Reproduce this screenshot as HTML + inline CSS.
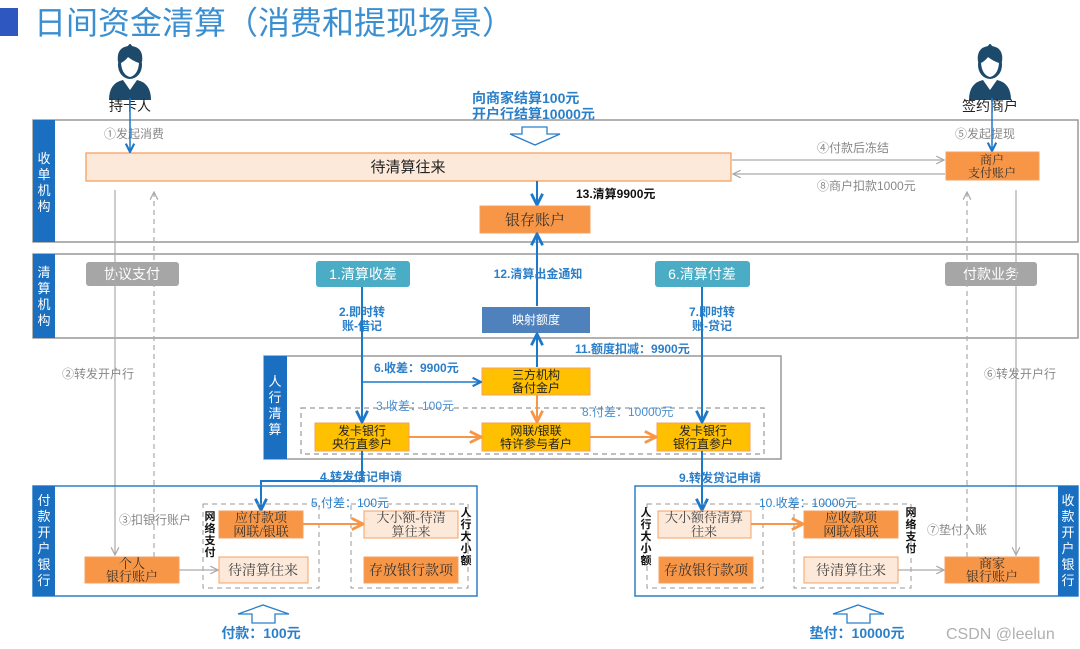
<!DOCTYPE html>
<html><head><meta charset="utf-8"><style>
html,body{margin:0;padding:0;background:#fff;}
svg{display:block;font-family:"Liberation Sans","Noto Sans CJK SC",sans-serif;}
.sv{font-family:"Liberation Serif","Noto Serif CJK SC",serif;}
</style></head><body>
<svg width="1080" height="649" viewBox="0 0 1080 649" xmlns="http://www.w3.org/2000/svg">
<defs>
<marker id="ab" viewBox="0 0 10 10" refX="9" refY="5" markerWidth="7" markerHeight="7" orient="auto"><path d="M1,1 L9,5 L1,9" fill="none" stroke="#1c78c8" stroke-width="2"/></marker>
<marker id="ao" viewBox="0 0 10 10" refX="9" refY="5" markerWidth="7" markerHeight="7" orient="auto"><path d="M1,1 L9,5 L1,9" fill="none" stroke="#f79646" stroke-width="2"/></marker>
<marker id="ag" viewBox="0 0 10 10" refX="9" refY="5" markerWidth="8" markerHeight="8" orient="auto"><path d="M1,1 L9,5 L1,9" fill="none" stroke="#aaa" stroke-width="1.3"/></marker>
<g id="person">
<path d="M-21,50 Q-21,33 -7,30 L0,40 L7,30 Q21,33 21,50 Z" fill="#1d4a6b"/>
<path d="M-6,30 L0,39 L6,30 L3,27 L-3,27Z" fill="#fff"/>
<ellipse cx="0" cy="15" rx="12" ry="14" fill="#1d4a6b"/>
<path d="M-9,13 Q-8,25 0,27 Q8,25 9,13 Q3,11 -2,7 Q-5,11 -9,13Z" fill="#fff"/>
<path d="M-12,12 Q-14,-2 -2,-4 Q0,-8 2,-4 Q14,-2 12,12 Q7,7 0,7 Q-7,7 -12,12Z" fill="#1d4a6b"/>
</g>
</defs>

<!-- title -->
<rect x="0" y="8" width="18" height="28" fill="#2f57c0"/>
<text x="34" y="34" font-size="32" fill="#3b8fd0">日间资金清算（消费和提现场景）</text>

<!-- persons -->
<use href="#person" x="130" y="50"/>
<text x="130" y="111" font-size="14" text-anchor="middle" fill="#222">持卡人</text>
<use href="#person" x="990" y="50"/>
<text x="990" y="111" font-size="14" text-anchor="middle" fill="#222">签约商户</text>

<text x="472" y="103" font-size="14" font-weight="bold" fill="#2b7fc9">向商家结算100元</text>
<text x="472" y="119" font-size="14" font-weight="bold" fill="#2b7fc9">开户行结算10000元</text>

<!-- Section 1 -->
<rect x="33" y="120" width="1045" height="122" fill="#fff" stroke="#999" stroke-width="1.5"/>
<rect x="33" y="120" width="22" height="122" fill="#1a6fc0"/>
<text font-size="13" fill="#fff" text-anchor="middle"><tspan x="44" y="163">收</tspan><tspan x="44" y="179">单</tspan><tspan x="44" y="195">机</tspan><tspan x="44" y="211">构</tspan></text>
<path d="M522,127 L547,127 L547,134 L560,134 L535,145 L510,134 L522,134Z" fill="#fff" stroke="#2b7fc9" stroke-width="1.3"/>
<rect x="86" y="153" width="645" height="28" fill="#fde9d9" stroke="#f7a060" stroke-width="1.3"/>
<text x="408" y="172" font-size="15" text-anchor="middle" fill="#222">待清算往来</text>
<text x="104" y="138" font-size="12" fill="#888">①发起消费</text>
<line x1="130" y1="98" x2="130" y2="152" stroke="#1c78c8" stroke-width="1.5" marker-end="url(#ab)"/>
<text x="955" y="138" font-size="12" fill="#888">⑤发起提现</text>
<line x1="992" y1="98" x2="992" y2="151" stroke="#1c78c8" stroke-width="1.5" marker-end="url(#ab)"/>
<rect x="946" y="152" width="93" height="28" fill="#f79646" stroke="#f7a060"/>
<text class="sv" font-size="12" text-anchor="middle" fill="#333"><tspan x="992" y="164">商户</tspan><tspan x="992" y="177">支付账户</tspan></text>
<line x1="732" y1="160" x2="944" y2="160" stroke="#aaa" stroke-width="1.2" marker-end="url(#ag)"/>
<line x1="945" y1="174" x2="733" y2="174" stroke="#aaa" stroke-width="1.2" marker-end="url(#ag)"/>
<text x="817" y="152" font-size="12" fill="#888">④付款后冻结</text>
<text x="817" y="190" font-size="12" fill="#888">⑧商户扣款1000元</text>
<text x="576" y="198" font-size="12" font-weight="bold" fill="#111">13.清算9900元</text>
<line x1="537" y1="181" x2="537" y2="205" stroke="#1c78c8" stroke-width="2" marker-end="url(#ab)"/>
<rect x="480" y="206" width="110" height="27" fill="#f79646" stroke="#f7a060"/>
<text class="sv" x="535" y="225" font-size="15" text-anchor="middle" fill="#333">银存账户</text>

<!-- Section 2 -->
<rect x="33" y="254" width="1045" height="84" fill="#fff" stroke="#999" stroke-width="1.5"/>
<rect x="33" y="254" width="22" height="84" fill="#1a6fc0"/>
<text font-size="13" fill="#fff" text-anchor="middle"><tspan x="44" y="277">清</tspan><tspan x="44" y="293">算</tspan><tspan x="44" y="309">机</tspan><tspan x="44" y="325">构</tspan></text>
<rect x="86" y="262" width="93" height="24" rx="3" fill="#a6a6a6"/>
<text x="132" y="279" font-size="14" text-anchor="middle" fill="#fff">协议支付</text>
<rect x="316" y="261" width="94" height="26" rx="3" fill="#4bacc6"/>
<text x="363" y="279" font-size="14" text-anchor="middle" fill="#fff">1.清算收差</text>
<rect x="655" y="261" width="95" height="26" rx="3" fill="#4bacc6"/>
<text x="702" y="279" font-size="14" text-anchor="middle" fill="#fff">6.清算付差</text>
<rect x="945" y="262" width="92" height="24" rx="3" fill="#a6a6a6"/>
<text x="991" y="279" font-size="14" text-anchor="middle" fill="#fff">付款业务</text>
<rect x="482" y="307" width="108" height="26" fill="#4f81bd"/>
<text x="536" y="324" font-size="12" text-anchor="middle" fill="#fff">映射额度</text>
<line x1="537" y1="306" x2="537" y2="234" stroke="#1c78c8" stroke-width="2" marker-end="url(#ab)"/>
<text x="538" y="278" font-size="12" font-weight="bold" text-anchor="middle" fill="#2b7fc9">12.清算出金通知</text>
<text font-size="12" font-weight="bold" text-anchor="middle" fill="#2b7fc9"><tspan x="362" y="316">2.即时转</tspan><tspan x="362" y="330">账-借记</tspan></text>
<text font-size="12" font-weight="bold" text-anchor="middle" fill="#2b7fc9"><tspan x="712" y="316">7.即时转</tspan><tspan x="712" y="330">账-贷记</tspan></text>
<text x="575" y="353" font-size="12" font-weight="bold" fill="#2b7fc9">11.额度扣减：9900元</text>

<!-- gray side lines -->
<line x1="115" y1="190" x2="115" y2="555" stroke="#aaa" stroke-width="1.2" marker-end="url(#ag)"/>
<line x1="154" y1="557" x2="154" y2="192" stroke="#aaa" stroke-width="1.2" stroke-dasharray="5,4" marker-end="url(#ag)"/>
<line x1="967" y1="557" x2="967" y2="192" stroke="#aaa" stroke-width="1.2" stroke-dasharray="5,4" marker-end="url(#ag)"/>
<line x1="1016" y1="190" x2="1016" y2="555" stroke="#aaa" stroke-width="1.2" marker-end="url(#ag)"/>
<text x="62" y="378" font-size="12" fill="#888">②转发开户行</text>
<text x="984" y="378" font-size="12" fill="#888">⑥转发开户行</text>

<!-- 人行清算 -->
<rect x="264" y="356" width="517" height="103" fill="#fff" stroke="#999" stroke-width="1.5"/>
<rect x="264" y="356" width="23" height="103" fill="#1a6fc0"/>
<text font-size="13" fill="#fff" text-anchor="middle"><tspan x="275" y="386">人</tspan><tspan x="275" y="402">行</tspan><tspan x="275" y="418">清</tspan><tspan x="275" y="434">算</tspan></text>
<rect x="301" y="408" width="463" height="46" fill="none" stroke="#999" stroke-dasharray="5,4" stroke-width="1.2"/>
<rect x="482" y="368" width="108" height="27" fill="#ffc000" stroke="#f7a060"/>
<text font-size="12" text-anchor="middle" fill="#222"><tspan x="536" y="379">三方机构</tspan><tspan x="536" y="392">备付金户</tspan></text>
<rect x="315" y="423" width="94" height="28" fill="#ffc000" stroke="#f7a060"/>
<text font-size="12" text-anchor="middle" fill="#222"><tspan x="362" y="435">发卡银行</tspan><tspan x="362" y="448">央行直参户</tspan></text>
<rect x="482" y="423" width="108" height="28" fill="#ffc000" stroke="#f7a060"/>
<text font-size="12" text-anchor="middle" fill="#222"><tspan x="536" y="435">网联/银联</tspan><tspan x="536" y="448">特许参与者户</tspan></text>
<rect x="657" y="423" width="93" height="28" fill="#ffc000" stroke="#f7a060"/>
<text font-size="12" text-anchor="middle" fill="#222"><tspan x="703" y="435">发卡银行</tspan><tspan x="703" y="448">银行直参户</tspan></text>
<line x1="409" y1="437" x2="481" y2="437" stroke="#f79646" stroke-width="2" marker-end="url(#ao)"/>
<line x1="590" y1="437" x2="656" y2="437" stroke="#f79646" stroke-width="2" marker-end="url(#ao)"/>
<line x1="537" y1="395" x2="537" y2="422" stroke="#f79646" stroke-width="2" marker-end="url(#ao)"/>
<line x1="537" y1="367" x2="537" y2="334" stroke="#1c78c8" stroke-width="2" marker-end="url(#ab)"/>
<line x1="362" y1="287" x2="362" y2="422" stroke="#1c78c8" stroke-width="2" marker-end="url(#ab)"/>
<line x1="362" y1="382" x2="481" y2="382" stroke="#1c78c8" stroke-width="1.5" marker-end="url(#ab)"/>
<line x1="702" y1="287" x2="702" y2="422" stroke="#1c78c8" stroke-width="2" marker-end="url(#ab)"/>
<text x="374" y="372" font-size="12" font-weight="bold" fill="#2b7fc9">6.收差：9900元</text>
<text x="376" y="410" font-size="12" fill="#4a8fd0">3.收差：100元</text>
<text x="582" y="416" font-size="12" fill="#4a8fd0">8.付差：10000元</text>

<!-- 4 / 9 -->
<polyline points="362,451 362,481 261,481 261,510" fill="none" stroke="#1c78c8" stroke-width="2" marker-end="url(#ab)"/>
<text x="320" y="481" font-size="12" font-weight="bold" fill="#2b7fc9">4.转发借记申请</text>
<line x1="702" y1="451" x2="702" y2="510" stroke="#1c78c8" stroke-width="2" marker-end="url(#ab)"/>
<text x="679" y="482" font-size="12" font-weight="bold" fill="#2b7fc9">9.转发贷记申请</text>

<!-- 付款开户银行 -->
<rect x="33" y="486" width="444" height="110" fill="none" stroke="#2b7fc9" stroke-width="1.5"/>
<rect x="33" y="486" width="22" height="110" fill="#1a6fc0"/>
<text font-size="13" fill="#fff" text-anchor="middle"><tspan x="44" y="505">付</tspan><tspan x="44" y="521">款</tspan><tspan x="44" y="537">开</tspan><tspan x="44" y="553">户</tspan><tspan x="44" y="569">银</tspan><tspan x="44" y="585">行</tspan></text>
<rect x="203" y="504" width="116" height="84" fill="none" stroke="#999" stroke-dasharray="5,4"/>
<rect x="351" y="504" width="117" height="84" fill="none" stroke="#999" stroke-dasharray="5,4"/>
<text font-size="11" font-weight="bold" fill="#111" text-anchor="middle"><tspan x="210" y="520">网</tspan><tspan x="210" y="532">络</tspan><tspan x="210" y="544">支</tspan><tspan x="210" y="556">付</tspan></text>
<text font-size="11" font-weight="bold" fill="#111" text-anchor="middle"><tspan x="466" y="516">人</tspan><tspan x="466" y="528">行</tspan><tspan x="466" y="540">大</tspan><tspan x="466" y="552">小</tspan><tspan x="466" y="564">额</tspan></text>
<text x="119" y="524" font-size="12" fill="#888">③扣银行账户</text>
<rect x="85" y="557" width="94" height="26" fill="#f79646" stroke="#f7a060"/>
<text class="sv" font-size="13" text-anchor="middle" fill="#333"><tspan x="132" y="568">个人</tspan><tspan x="132" y="581">银行账户</tspan></text>
<rect x="219" y="511" width="84" height="27" fill="#f79646" stroke="#f7a060"/>
<text class="sv" font-size="13" text-anchor="middle" fill="#333"><tspan x="261" y="522">应付款项</tspan><tspan x="261" y="536">网联/银联</tspan></text>
<rect x="219" y="557" width="89" height="26" fill="#fde9d9" stroke="#f7a060"/>
<text class="sv" x="263" y="575" font-size="14" text-anchor="middle" fill="#444">待清算往来</text>
<rect x="364" y="511" width="94" height="27" fill="#fde9d9" stroke="#f7a060"/>
<text class="sv" font-size="13" text-anchor="middle" fill="#444"><tspan x="411" y="522">大小额-待清</tspan><tspan x="411" y="536">算往来</tspan></text>
<rect x="364" y="557" width="94" height="26" fill="#f79646" stroke="#f7a060"/>
<text class="sv" x="411" y="575" font-size="14" text-anchor="middle" fill="#333">存放银行款项</text>
<line x1="179" y1="570" x2="218" y2="570" stroke="#aaa" stroke-width="1.2" marker-end="url(#ag)"/>
<line x1="303" y1="524" x2="363" y2="524" stroke="#f79646" stroke-width="2" marker-end="url(#ao)"/>
<text x="311" y="507" font-size="12" fill="#2b7fc9">5.付差：100元</text>
<path d="M252,623 L252,614 L238,614 L263,605 L289,614 L275,614 L275,623Z" fill="#fff" stroke="#2b7fc9" stroke-width="1.3"/>
<text x="261" y="638" font-size="14" font-weight="bold" text-anchor="middle" fill="#2b7fc9">付款：100元</text>

<!-- 收款开户银行 -->
<rect x="635" y="486" width="443" height="110" fill="none" stroke="#2b7fc9" stroke-width="1.5"/>
<rect x="1058" y="486" width="20" height="110" fill="#1a6fc0"/>
<text font-size="13" fill="#fff" text-anchor="middle"><tspan x="1068" y="505">收</tspan><tspan x="1068" y="521">款</tspan><tspan x="1068" y="537">开</tspan><tspan x="1068" y="553">户</tspan><tspan x="1068" y="569">银</tspan><tspan x="1068" y="585">行</tspan></text>
<rect x="647" y="504" width="116" height="84" fill="none" stroke="#999" stroke-dasharray="5,4"/>
<rect x="794" y="504" width="117" height="84" fill="none" stroke="#999" stroke-dasharray="5,4"/>
<text font-size="11" font-weight="bold" fill="#111" text-anchor="middle"><tspan x="646" y="516">人</tspan><tspan x="646" y="528">行</tspan><tspan x="646" y="540">大</tspan><tspan x="646" y="552">小</tspan><tspan x="646" y="564">额</tspan></text>
<text font-size="11" font-weight="bold" fill="#111" text-anchor="middle"><tspan x="911" y="516">网</tspan><tspan x="911" y="528">络</tspan><tspan x="911" y="540">支</tspan><tspan x="911" y="552">付</tspan></text>
<rect x="658" y="511" width="93" height="27" fill="#fde9d9" stroke="#f7a060"/>
<text class="sv" font-size="13" text-anchor="middle" fill="#444"><tspan x="704" y="522">大小额待清算</tspan><tspan x="704" y="536">往来</tspan></text>
<rect x="659" y="557" width="94" height="26" fill="#f79646" stroke="#f7a060"/>
<text class="sv" x="706" y="575" font-size="14" text-anchor="middle" fill="#333">存放银行款项</text>
<rect x="804" y="511" width="94" height="27" fill="#f79646" stroke="#f7a060"/>
<text class="sv" font-size="13" text-anchor="middle" fill="#333"><tspan x="851" y="522">应收款项</tspan><tspan x="851" y="536">网联/银联</tspan></text>
<rect x="804" y="557" width="94" height="26" fill="#fde9d9" stroke="#f7a060"/>
<text class="sv" x="851" y="575" font-size="14" text-anchor="middle" fill="#444">待清算往来</text>
<rect x="945" y="557" width="94" height="26" fill="#f79646" stroke="#f7a060"/>
<text class="sv" font-size="13" text-anchor="middle" fill="#333"><tspan x="992" y="568">商家</tspan><tspan x="992" y="581">银行账户</tspan></text>
<line x1="751" y1="524" x2="803" y2="524" stroke="#f79646" stroke-width="2" marker-end="url(#ao)"/>
<line x1="898" y1="570" x2="944" y2="570" stroke="#aaa" stroke-width="1.2" marker-end="url(#ag)"/>
<text x="759" y="507" font-size="12" fill="#2b7fc9">10.收差：10000元</text>
<text x="927" y="534" font-size="12" fill="#888">⑦垫付入账</text>
<path d="M847,623 L847,614 L833,614 L858,605 L884,614 L870,614 L870,623Z" fill="#fff" stroke="#2b7fc9" stroke-width="1.3"/>
<text x="857" y="638" font-size="14" font-weight="bold" text-anchor="middle" fill="#2b7fc9">垫付：10000元</text>
<text x="946" y="639" font-size="16" fill="#b0b0b0">CSDN @leelun</text>
</svg>
</body></html>
